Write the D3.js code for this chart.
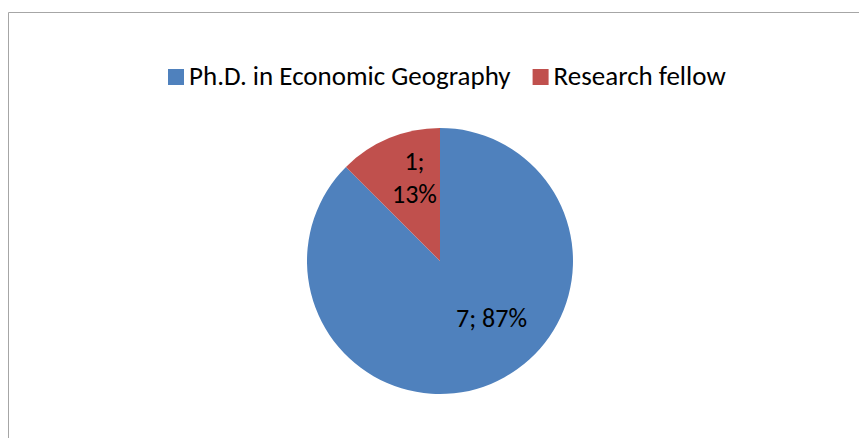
<!DOCTYPE html>
<html>
<head>
<meta charset="utf-8">
<script src="https://cdn.jsdelivr.net/npm/d3@7"></script>
<style>
  body { margin: 0; background: #fff; }
  text { font-family: Carlito, "Liberation Sans", sans-serif; fill: #000; }
</style>
</head>
<body>
<div id="chart"></div>
<script>
const categories = ["Ph.D. in Economic Geography", "Research fellow"];
const values = [7, 1];
const pctLabels = ["87%", "13%"];
const colors = ["#4F81BD", "#C0504D"];

const WIDTH = 859, HEIGHT = 438;
const CENTER = {x: 440, y: 261};
const RADIUS = 133;

const svg = d3.select("#chart")
    .append("svg")
        .attr("width", WIDTH)
        .attr("height", HEIGHT);

// outer frame (only top + left visible)
svg.append("path")
    .attr("d", `M8.5,${HEIGHT} V12.5 H${WIDTH}`)
    .attr("fill", "none")
    .attr("stroke", "#A6A6A6")
    .attr("stroke-width", 1);

const pie = d3.pie().sort(null).value(d => d);
const arc = d3.arc().innerRadius(0).outerRadius(RADIUS);
const arcs = pie(values);

const g = svg.append("g")
    .attr("transform", `translate(${CENTER.x}, ${CENTER.y})`);

g.selectAll("path.slice")
    .data(arcs)
    .enter().append("path")
        .attr("class", "slice")
        .attr("d", arc)
        .attr("fill", (d, i) => colors[i]);

// data labels
const labelArc = d3.arc().innerRadius(RADIUS * 0.6).outerRadius(RADIUS * 0.6);

// big slice: single line
const c0 = labelArc.centroid(arcs[0]);
g.append("text")
    .attr("x", c0[0] + 21)
    .attr("y", c0[1] - 8)
    .attr("text-anchor", "middle")
    .style("font-size", "26px")
    .text(`${values[0]}; ${pctLabels[0]}`);

// small slice: two lines
const c1 = d3.arc().innerRadius(RADIUS * 0.62).outerRadius(RADIUS * 0.62).centroid(arcs[1]);
const t1 = g.append("text")
    .attr("text-anchor", "middle")
    .style("font-size", "26px");
t1.append("tspan")
    .attr("x", c1[0] + 6)
    .attr("y", c1[1] - 15)
    .text(`${values[1]};`);
t1.append("tspan")
    .attr("x", c1[0] + 6)
    .attr("y", c1[1] + 18)
    .text(pctLabels[1]);

// legend
const legend = svg.append("g");
const legendY = 85;
let lx = 168;
categories.forEach((c, i) => {
    legend.append("rect")
        .attr("x", lx)
        .attr("y", legendY - 16)
        .attr("width", 16)
        .attr("height", 16)
        .attr("fill", colors[i]);
    const t = legend.append("text")
        .attr("x", lx + 21)
        .attr("y", legendY)
        .style("font-size", "27px")
        .text(c);
    lx += 21 + t.node().getComputedTextLength() + 22;
});
</script>
</body>
</html>
